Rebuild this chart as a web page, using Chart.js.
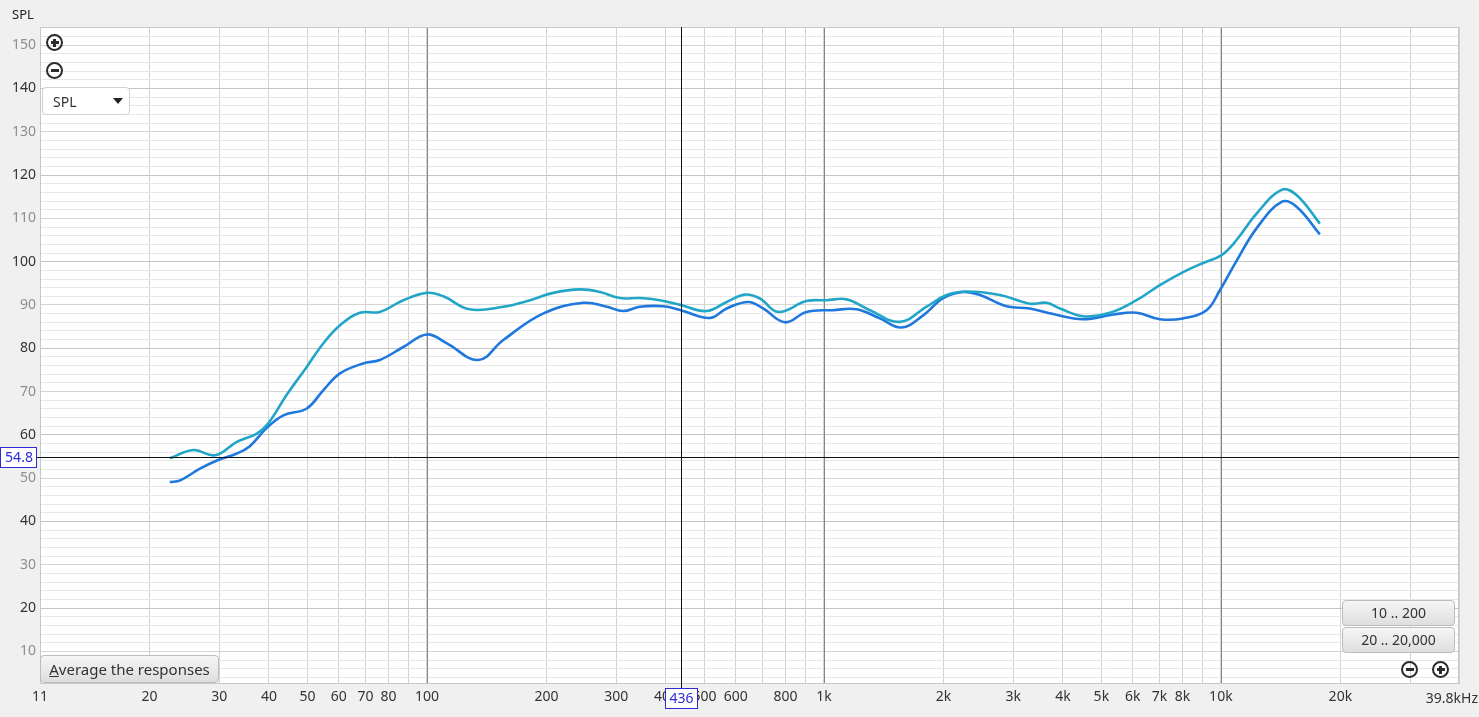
<!DOCTYPE html>
<html>
<head>
<meta charset="utf-8">
<title>SPL</title>
<script src="https://cdn.jsdelivr.net/npm/chart.js@4.4.1/dist/chart.umd.min.js"></script>
<style>
  body { margin: 0; background: #f0f0f0; font-family: "Noto Sans", "DejaVu Sans", sans-serif; color: #333; }
  #wrap { position: relative; width: 1479px; height: 717px; overflow: hidden; }
  #spl { position: absolute; left: 0; top: 0; }
  .title { position: absolute; left: 12px; top: 5px; font-size: 13px; color: #222; }
  .zoom { position: absolute; width: 13px; height: 13px; border: 2.5px solid #2b2b2b; border-radius: 50%; }
  .zoom:before, .zoom.plus:after { content: ""; position: absolute; background: #2b2b2b; }
  .zoom:before { left: 2.5px; top: 5.25px; width: 8px; height: 2.5px; }
  .zoom.plus:after { left: 5.25px; top: 2.5px; width: 2.5px; height: 8px; }
  .combo { position: absolute; left: 42px; top: 87px; width: 86px; height: 26px; background: #fff;
           border: 1px solid #d2d2d2; border-radius: 4px; font-size: 14px; }
  .combo span { position: absolute; left: 10px; top: 4px; }
  .combo i { position: absolute; left: 70px; top: 10px; width: 0; height: 0;
             border-left: 5px solid transparent; border-right: 5px solid transparent; border-top: 6px solid #222; }
  .btn { position: absolute; box-sizing: border-box; background: linear-gradient(#f6f6f6, #dedede);
         border: 1px solid #bcbcbc; border-radius: 4px; font-size: 14px; color: #333; text-align: center; }
</style>
</head>
<body>
<div id="wrap">
  <canvas id="spl" width="1479" height="717"></canvas>
  <div class="title">SPL</div>
  <div class="zoom plus" style="left:46px;top:34px"></div>
  <div class="zoom" style="left:46px;top:62px"></div>
  <div class="combo"><span>SPL</span><i></i></div>
  <div class="btn" style="left:40px;top:655px;width:179px;height:28px;line-height:26px;font-size:15px"><u>A</u>verage the responses</div>
  <div class="btn" style="left:1342px;top:600px;width:113px;height:26px;line-height:24px">10 .. 200</div>
  <div class="btn" style="left:1342px;top:627px;width:113px;height:26px;line-height:24px">20 .. 20,000</div>
  <div class="zoom" style="left:1401px;top:661px"></div>
  <div class="zoom plus" style="left:1432px;top:661px"></div>
</div>
<script>
// measured responses (Hz / dB SPL)
var cyanFreq = [22.5, 25.8, 29.3, 33.2, 37.3, 39.8, 44.3, 49.8, 54.8, 60.4, 67.8, 76.1, 87.2, 100, 110, 128, 156, 182, 208, 243, 273, 306, 344, 386, 436, 506, 569, 632, 690, 767, 904, 1016, 1141, 1306, 1554, 1814, 2038, 2288, 2775, 3303, 3639, 3931, 4498, 5253, 6130, 7020, 8035, 9024, 10040, 10953, 12300, 14220, 15510, 17760];
var cyanSpl = [54.6, 56.5, 55.3, 58.4, 60.3, 62.6, 69.2, 75.7, 81.1, 85.3, 88.2, 88.4, 91.1, 92.8, 92.0, 89.0, 89.6, 91.1, 92.8, 93.6, 93.0, 91.6, 91.6, 91.1, 90.0, 88.6, 90.7, 92.4, 91.5, 88.4, 90.9, 91.1, 91.3, 88.8, 86.1, 89.6, 92.3, 93.1, 92.3, 90.3, 90.5, 89.2, 87.4, 88.2, 91.1, 94.6, 97.6, 99.7, 101.5, 105.0, 111.1, 116.6, 115.4, 108.8];

var blueFreq = [22.5, 23.9, 26.8, 29.8, 33.2, 35.8, 39.4, 43.5, 49.8, 54.8, 60.4, 69.1, 76.1, 87.2, 100, 112, 134.7, 155.7, 196, 248, 284, 312, 344, 394, 436, 516, 569, 645, 703, 798, 904, 1054, 1209, 1384, 1569, 1779, 1998, 2244, 2472, 2885, 3303, 3782, 4498, 5355, 6130, 7020, 8035, 9203, 9943, 10953, 12300, 14220, 15510, 17760];
var blueSpl = [49.1, 49.5, 52.2, 54.2, 55.7, 57.4, 61.5, 64.5, 66.1, 70.3, 74.2, 76.5, 77.3, 80.3, 83.2, 81.2, 77.3, 81.9, 88.0, 90.5, 89.6, 88.6, 89.6, 89.7, 88.8, 87.0, 89.2, 90.7, 89.2, 86.0, 88.4, 88.8, 89.0, 86.9, 84.8, 87.6, 91.6, 93.0, 92.3, 89.7, 89.2, 87.9, 86.7, 87.8, 88.2, 86.7, 86.9, 88.8, 93.4, 100.2, 107.7, 113.8, 112.7, 106.3];

// axis ticks
var xMin = 10.6, xMax = 39800;
var xGrid = [20, 30, 40, 50, 60, 70, 80, 90, 100, 200, 300, 400, 500, 600, 700, 800, 900, 1000, 2000, 3000, 4000, 5000, 6000, 7000, 8000, 9000, 10000, 20000, 30000];
var xMajor = [100, 1000, 10000];
var xLabels = { 20: '20', 30: '30', 40: '40', 50: '50', 60: '60', 70: '70', 80: '80', 100: '100', 200: '200', 300: '300', 400: '400', 500: '500', 600: '600', 800: '800', 1000: '1k', 2000: '2k', 3000: '3k', 4000: '4k', 5000: '5k', 6000: '6k', 7000: '7k', 8000: '8k', 10000: '10k', 20000: '20k' };
var yMin = 2.7, yMax = 154.2;
var yGrid = [];
for (var v = 4; v <= 154; v += 2) yGrid.push(v);

var cursorFreq = 436, cursorSpl = 54.8;

function pts(f, s) {
	return f.map(function(x, i) { return { x: x, y: s[i] }; });
}

var frame = {
	id: 'frame',
	beforeDraw: function(chart) {
		var c = chart.ctx, a = chart.chartArea;
		c.save();
		c.fillStyle = '#f0f0f0';
		c.fillRect(0, 0, chart.width, chart.height);
		c.fillStyle = '#ffffff';
		c.fillRect(a.left, a.top, a.right - a.left, a.bottom - a.top);
		c.restore();
	},
	beforeDatasetsDraw: function(chart) {
		// decade lines sit on top of the dB grid
		var c = chart.ctx, a = chart.chartArea;
		c.save();
		c.strokeStyle = '#858585';
		c.lineWidth = 1;
		c.beginPath();
		xMajor.forEach(function(f) {
			var x = Math.round(chart.scales.x.getPixelForValue(f)) + 0.5;
			c.moveTo(x, a.top); c.lineTo(x, a.bottom);
		});
		c.stroke();
		c.restore();
	},
	afterDraw: function(chart) {
		var c = chart.ctx, a = chart.chartArea;
		var px = Math.round(chart.scales.x.getPixelForValue(cursorFreq)) + 0.5;
		var py = Math.round(chart.scales.y.getPixelForValue(cursorSpl)) + 0.5;
		c.save();
		c.strokeStyle = '#c8c8c8';
		c.lineWidth = 1;
		c.strokeRect(a.left + 0.5, a.top + 0.5, a.right - a.left - 1, a.bottom - a.top);

		// cursor
		c.strokeStyle = '#111';
		c.beginPath();
		c.moveTo(37, py); c.lineTo(a.right, py);
		c.moveTo(px, a.top); c.lineTo(px, 688);
		c.stroke();

		c.font = '14px "Noto Sans", "DejaVu Sans", sans-serif';
		c.textAlign = 'center';
		c.textBaseline = 'middle';
		c.fillStyle = '#fff';
		c.fillRect(1, py - 10, 36, 20);
		c.fillRect(px - 16, 688, 32, 20);
		c.strokeStyle = '#2b2bd8';
		c.strokeRect(0.5, py - 10, 36, 20);
		c.strokeRect(px - 16, 688.5, 32, 20);
		c.fillStyle = '#2b2bd8';
		c.fillText(cursorSpl.toFixed(1), 19, py + 1);
		c.fillText(String(cursorFreq), px, 699);

		c.fillStyle = '#333';
		c.textAlign = 'right';
		c.fillText('39.8kHz', 1478, 699);
		c.restore();
	}
};

var ctx = document.getElementById('spl').getContext('2d');
var splChart = new Chart(ctx, {
	type: 'line',
	data: {
		datasets: [{
			label: 'cyan',
			data: pts(cyanFreq, cyanSpl),
			borderColor: '#22a6c8',
			borderWidth: 2.6,
			pointRadius: 0,
			tension: 0.4
		},
		{
			label: 'blue',
			data: pts(blueFreq, blueSpl),
			borderColor: '#1f78dd',
			borderWidth: 2.6,
			pointRadius: 0,
			tension: 0.4
		}]
	},
	options: {
		responsive: false,
		animation: false,
		devicePixelRatio: 1,
		layout: { padding: { top: 27, right: 20, left: 0, bottom: 0 } },
		plugins: { legend: { display: false }, tooltip: { enabled: false } },
		scales: {
			x: {
				type: 'logarithmic',
				min: xMin,
				max: xMax,
				afterBuildTicks: function(s) {
					s.ticks = [xMin].concat(xGrid, [xMax]).map(function(v) { return { value: v }; });
				},
				afterFit: function(s) { s.height = 34; },
				border: { color: '#c8c8c8' },
				grid: {
					drawTicks: false,
					color: '#d2d2d2'
				},
				ticks: {
					autoSkip: false,
					maxRotation: 0,
					padding: 6,
					color: '#333',
					font: { family: '"Noto Sans", "DejaVu Sans", sans-serif', size: 14 },
					callback: function(v) {
						if (v === xMin) return '11';
						return xLabels[v] || '';
					}
				}
			},
			y: {
				min: yMin,
				max: yMax,
				afterBuildTicks: function(s) {
					s.ticks = yGrid.map(function(v) { return { value: v }; });
				},
				afterFit: function(s) { s.width = 40; },
				border: { color: '#c8c8c8' },
				grid: {
					drawTicks: false,
					color: function(c) {
						var v = c.tick && c.tick.value;
						if (v % 20 === 0) return '#c4c4c4';
						if (v % 10 === 0) return '#d4d4d4';
						return '#e8e8e8';
					}
				},
				ticks: {
					autoSkip: false,
					padding: 4,
					font: { family: '"Noto Sans", "DejaVu Sans", sans-serif', size: 14 },
					color: function(c) {
						return c.tick && c.tick.value % 20 === 0 ? '#333' : '#8e8e8e';
					},
					callback: function(v) {
						return v % 10 === 0 ? String(v) : '';
					}
				}
			}
		}
	},
	plugins: [frame]
});
</script>
</body>
</html>
